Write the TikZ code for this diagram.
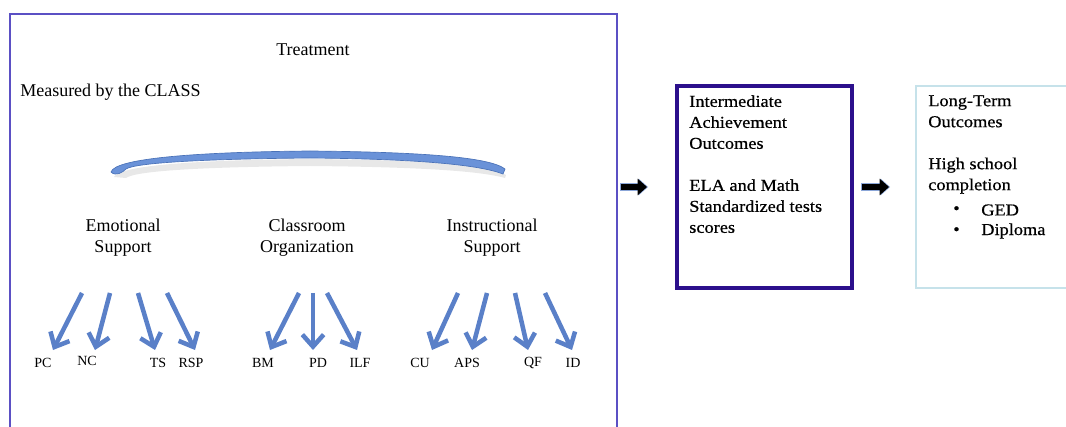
\documentclass[tikz,border=0pt]{standalone}
\usepackage{fontspec}
\setmainfont{Liberation Serif}
\newfontfamily\cambria[FakeStretch=1.1,FakeBold=0.6]{Liberation Serif}
\usetikzlibrary{arrows.meta}
\definecolor{frameblue}{HTML}{5B50C4}
\definecolor{navyframe}{HTML}{2C108C}
\definecolor{lightframe}{HTML}{C6E2EA}
\definecolor{arrowblue}{HTML}{5A80C8}
\definecolor{brblue}{HTML}{6A92D8}
\definecolor{brdark}{HTML}{4A72B8}
\tikzset{
  lbl/.style={font=\fontsize{13.5}{15.75}\selectfont, align=center, inner sep=0pt},
  sm/.style={font=\fontsize{10.5}{12}\selectfont, inner sep=0pt},
  subarrow/.style={draw=arrowblue, line width=3.4pt, -{Straight Barb[length=9pt,width=16pt]}},
  boxtext/.style={font=\cambria\fontsize{12.5}{15.75}\selectfont, align=left, inner sep=0pt, anchor=north west},
  blackarrow/.style={line width=4.5pt, -{Triangle[length=7pt,width=12pt]}}
}
\begin{document}
\begin{tikzpicture}[x=0.75pt,y=-0.75pt]
\useasboundingbox (0,0) rectangle (1066,427);
% main frame (open at bottom)
\draw[frameblue, line width=1.6pt] (10,440) -- (10,14) -- (617,14) -- (617,440);
\node[lbl] (treat) at (313,50) {Treatment};
\node[lbl, anchor=west] (meas) at (20,92) {Measured by the CLASS};
% bracket
\fill[gray!30, opacity=0.6] (114,177) .. controls (120,165) and (200,160) .. (310,159) .. controls (420,160) and (490,164) .. (506,175) -- (505,178) .. controls (480,171) and (420,167) .. (310,166) .. controls (200,167) and (135,171) .. (126,178) -- cycle;
\fill[brblue, draw=brdark, line width=0.5pt] (111,172) .. controls (115,158) and (200,152) .. (310,151) .. controls (420,152) and (490,157) .. (505,169) -- (503,174) .. controls (480,165) and (420,159) .. (310,158) .. controls (200,159) and (135,163) .. (126,169) .. controls (123,172) and (116,177) .. (111,172) -- cycle;
% categories
\node[lbl] (es) at (123,238) {Emotional\\Support};
\node[lbl] (co) at (307,238) {Classroom\\Organization};
\node[lbl] (is) at (492,238) {Instructional\\Support};
% dimension labels
\node[sm] (pc) at (43,363) {PC};
\node[sm] (nc) at (87,361) {NC};
\node[sm] (ts) at (158,363) {TS};
\node[sm] (rsp) at (191,363) {RSP};
\node[sm] (bm) at (263,363) {BM};
\node[sm] (pd) at (318,363) {PD};
\node[sm] (ilf) at (360,363) {ILF};
\node[sm] (cu) at (420,363) {CU};
\node[sm] (aps) at (467,363) {APS};
\node[sm] (qf) at (533,363) {QF};
\node[sm] (id) at (573,363) {ID};
% arrow coordinates
\coordinate (s1) at (82,293);  \coordinate (e1) at (53,350);
\coordinate (s2) at (110,293); \coordinate (e2) at (95,350);
\coordinate (s3) at (138,293); \coordinate (e3) at (155,350);
\coordinate (s4) at (167,293); \coordinate (e4) at (195,350);
\coordinate (s5) at (299,293); \coordinate (e5) at (270,350);
\coordinate (s6) at (313,293); \coordinate (e6) at (313,350);
\coordinate (s7) at (327,293); \coordinate (e7) at (357,350);
\coordinate (s8) at (458,293); \coordinate (e8) at (432,350);
\coordinate (s9) at (487,293); \coordinate (e9) at (472,350);
\coordinate (s10) at (515,293); \coordinate (e10) at (528,350);
\coordinate (s11) at (545,293); \coordinate (e11) at (572,350);
\foreach \i in {1,...,11} { \draw[subarrow] (s\i) -- (e\i); }
% intermediate box
\node[draw=navyframe, line width=3pt, minimum width=131.25pt, minimum height=151.5pt, inner sep=0pt] (mid) at (764.5,187) {};
\node[boxtext] (midtxt) at (689,95) {Intermediate\\Achievement\\Outcomes\\[15.75pt]ELA and Math\\Standardized tests\\scores};
% long-term box
\draw[lightframe, line width=2pt] (1070,86) -- (916,86) -- (916,288) -- (1070,288);
\node[boxtext] (lttxt) at (928,95) {Long-Term\\Outcomes\\[15.75pt]High school\\completion};
\node[boxtext, anchor=west] (b1) at (953,210) {\textbullet};
\node[boxtext, anchor=west] (gd) at (981,210) {GED};
\node[boxtext, anchor=west] (b2) at (953,231) {\textbullet};
\node[boxtext, anchor=west] (dp) at (981,231) {Diploma};
% black arrows
\coordinate (a1s) at (621,187); \coordinate (a1e) at (647,187);
\coordinate (a2s) at (862,187); \coordinate (a2e) at (889,187);
\draw[blackarrow, arrowblue!70, line width=6.5pt] ([xshift=-0.5]a1s) -- ([xshift=0.8]a1e);
\draw[blackarrow, black] (a1s) -- (a1e);
\draw[blackarrow, arrowblue!70, line width=6.5pt] ([xshift=-0.5]a2s) -- ([xshift=0.8]a2e);
\draw[blackarrow, black] (a2s) -- (a2e);
\end{tikzpicture}
\end{document}
